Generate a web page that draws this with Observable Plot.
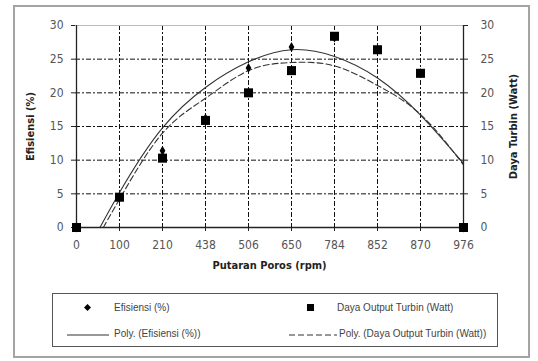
<!DOCTYPE html>
<html>
<head>
<meta charset="utf-8">
<script src="https://cdn.jsdelivr.net/npm/d3@7"></script>
<script src="https://cdn.jsdelivr.net/npm/@observablehq/plot@0.6"></script>
<style>
  html, body { margin: 0; padding: 0; background: #fff; }
  body { width: 538px; height: 361px; position: relative; overflow: hidden;
         font-family: "Liberation Sans", Arial, sans-serif; }
  #frame { position: absolute; left: 13px; top: 5px; width: 517px; height: 353px;
           box-sizing: border-box; border: 2px solid #a4a4a4; }
  #chart { position: absolute; left: 0; top: 0; }
  #legend { position: absolute; left: 52px; top: 293px; width: 446px; height: 54px;
            box-sizing: border-box; border: 1px solid #555; background: #fff; }
  .item { position: absolute; font-size: 10px; color: #444; white-space: nowrap; line-height: 11px; }
  .sym { position: absolute; line-height: 0; }
</style>
</head>
<body>
<div id="frame"></div>
<div id="chart"></div>
<div id="legend"></div>
<script>
// ---- data ----
const categories = ["0", "100", "210", "438", "506", "650", "784", "852", "870", "976"];
const efisiensi  = [0, 4.5, 11.4, 16.2, 23.7, 26.8, 28.2, 26.4, 22.9, 0];
const dayaOutput = [0, 4.5, 10.3, 15.9, 20.0, 23.3, 28.4, 26.4, 22.9, 0];
const polyEfisiensi = [-6.5, 5.2, 14.8, 20.8, 24.6, 26.4, 25.4, 22.2, 16.7, 9.5];
const polyDaya      = [-7.0, 4.2, 14.0, 19.2, 23.3, 24.5, 24.0, 21.1, 16.8, 9.3];
const yTicks = [0, 5, 10, 15, 20, 25, 30];
const xTitle = "Putaran Poros (rpm)";
const yLeftTitle = "Efisiensi (%)";
const yRightTitle = "Daya Turbin (Watt)";
const legendLabels = ["Efisiensi (%)", "Daya Output Turbin (Watt)", "Poly. (Efisiensi (%))", "Poly. (Daya Output Turbin (Watt))"];

const rows = (vals) => categories.map((c, i) => ({x: c, y: vals[i]}));
const effRows = rows(efisiensi);
const dayaRows = rows(dayaOutput);
const polyEffRows = rows(polyEfisiensi);
const polyDayaRows = rows(polyDaya);

const condensed = "'DejaVu Sans Condensed', 'Liberation Sans Narrow', 'Arial Narrow', sans-serif";
const chart = Plot.plot({
  width: 538,
  height: 290,
  marginLeft: 75,
  marginRight: 75,
  marginTop: 25,
  marginBottom: 63,
  style: {fontFamily: condensed, fontSize: "12px", color: "#555", background: "transparent"},
  x: {type: "point", domain: categories, padding: 0},
  y: {domain: [0, 30]},
  marks: [
    // gridlines
    Plot.ruleY(yTicks.slice(1, -1), {stroke: "#111", strokeWidth: 1, strokeDasharray: "5,2,2,2"}),
    Plot.ruleX(categories.slice(1, -1), {stroke: "#111", strokeWidth: 1, strokeDasharray: "5,2,2,2"}),
    // plot frame
    Plot.ruleY([30], {stroke: "#bbb", strokeWidth: 1.2}),
    Plot.ruleY([0], {stroke: "#222", strokeWidth: 1.3}),
    Plot.ruleX([categories[0]], {stroke: "#222", strokeWidth: 1.3}),
    Plot.ruleX([categories[categories.length - 1]], {stroke: "#222", strokeWidth: 1.3}),
    // axes
    Plot.axisY(yTicks, {anchor: "left", tickSize: 4, tickPadding: 8, label: null, stroke: "#222"}),
    Plot.axisY(yTicks, {anchor: "right", tickSize: 4, tickPadding: 13, label: null, stroke: "#222"}),
    Plot.axisX(categories, {anchor: "bottom", tickSize: 4, tickPadding: 9, label: null, stroke: "#222"}),
    // axis titles
    Plot.text([xTitle], {frameAnchor: "bottom", textAnchor: "middle", dy: 41, fontWeight: "bold", fontSize: 11, fill: "#222"}),
    Plot.text([yLeftTitle], {frameAnchor: "left", textAnchor: "middle", dx: -45, rotate: -90, fontWeight: "bold", fontSize: 11, fill: "#222"}),
    Plot.text([yRightTitle], {frameAnchor: "right", textAnchor: "middle", dx: 50, rotate: -90, fontWeight: "bold", fontSize: 11, fill: "#222"}),
    // trendlines
    Plot.line(polyEffRows, {x: "x", y: "y", curve: "natural", stroke: "#333", strokeWidth: 1.1, clip: true}),
    Plot.line(polyDayaRows, {x: "x", y: "y", curve: "natural", stroke: "#333", strokeWidth: 1.1, strokeDasharray: "6,3", clip: true}),
    // points
    Plot.dot(dayaRows, {x: "x", y: "y", symbol: "square", r: 5.1, fill: "#000", stroke: "none"}),
    Plot.dot(effRows, {x: "x", y: "y", symbol: "diamond", r: 3, fill: "#000", stroke: "none"})
  ]
});
document.getElementById("chart").appendChild(chart);

// ---- legend ----
const legend = document.getElementById("legend");
function addSym(svgInner, left, top, w, h) {
  const d = document.createElement("div");
  d.className = "sym";
  d.style.left = left + "px"; d.style.top = top + "px";
  d.innerHTML = `<svg width="${w}" height="${h}">${svgInner}</svg>`;
  legend.appendChild(d);
}
function addText(t, left, top) {
  const d = document.createElement("div");
  d.className = "item";
  d.style.left = left + "px"; d.style.top = top + "px";
  d.textContent = t;
  legend.appendChild(d);
}
// positions in page coordinates, legend box origin at (52, 293)
const ox = 52, oy = 293;
addSym('<path d="M3.5,0L7,3.5L3.5,7L0,3.5Z" fill="#000"/>', 83 - ox, 303 - oy, 7, 7);
addText(legendLabels[0], 113 - ox, 301 - oy);
addSym('<rect x="0" y="0" width="7" height="7" fill="#000"/>', 306 - ox, 303 - oy, 7, 7);
addText(legendLabels[1], 336 - ox, 301 - oy);
addSym('<line x1="0" y1="2" x2="42" y2="2" stroke="#333" stroke-width="1.1"/>', 66 - ox, 331 - oy, 42, 4);
addText(legendLabels[2], 113 - ox, 327 - oy);
addSym('<line x1="0" y1="2" x2="48" y2="2" stroke="#333" stroke-width="1.1" stroke-dasharray="6,3"/>', 288 - ox, 331 - oy, 48, 4);
addText(legendLabels[3], 338 - ox, 327 - oy);
</script>
</body>
</html>
